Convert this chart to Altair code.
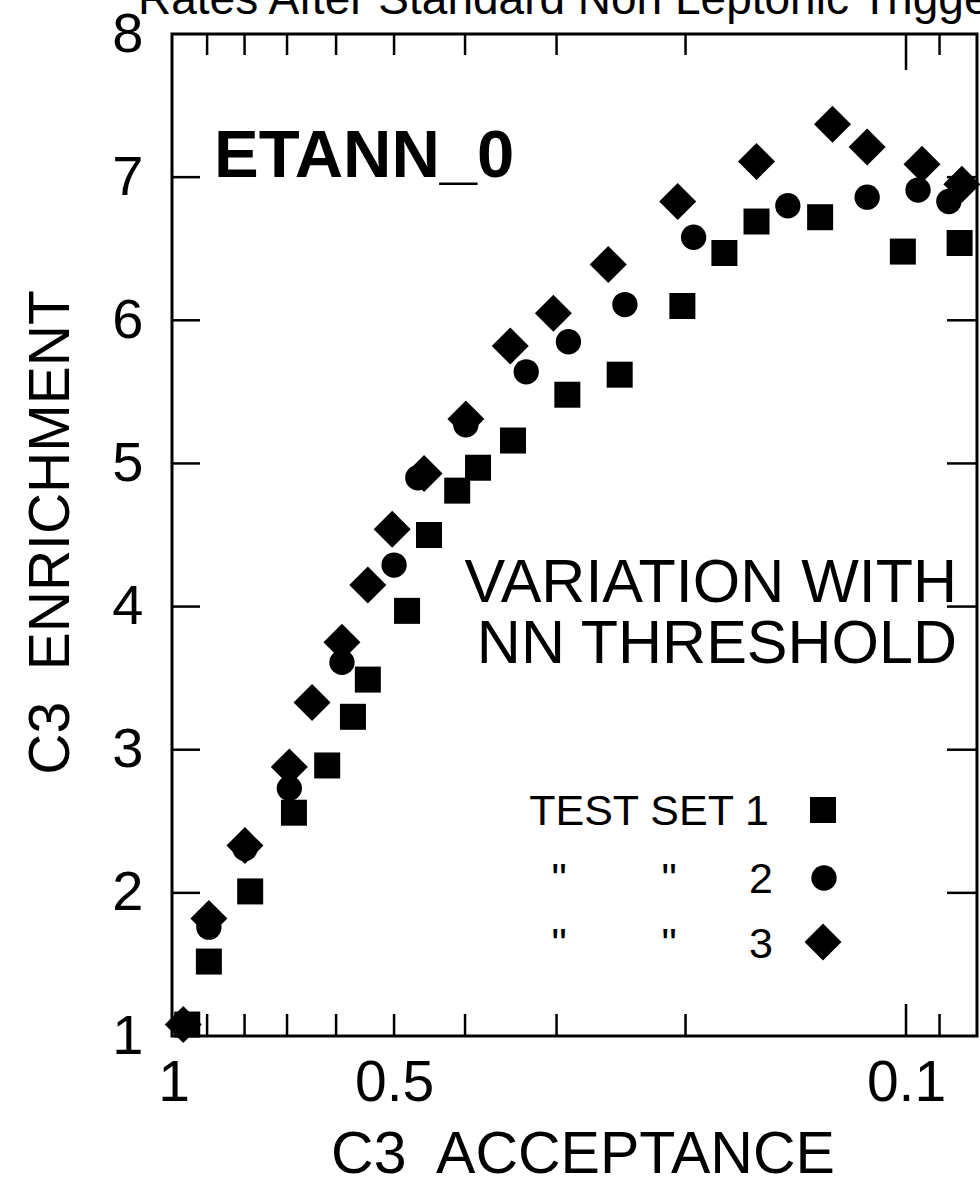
import altair as alt
import pandas as pd

# ---- data ----
sq_x = [0.958, 0.895, 0.786, 0.685, 0.617, 0.569, 0.543, 0.480, 0.448, 0.410,
        0.384, 0.344, 0.290, 0.246, 0.202, 0.177, 0.160, 0.131, 0.101, 0.0845]
sq_y = [1.08, 1.52, 2.01, 2.56, 2.89, 3.23, 3.49, 3.97, 4.50, 4.81,
        4.97, 5.16, 5.48, 5.62, 6.10, 6.47, 6.69, 6.72, 6.48, 6.54]
ci_x = [0.970, 0.895, 0.799, 0.695, 0.589, 0.500, 0.464, 0.399, 0.330, 0.289,
        0.242, 0.195, 0.145, 0.113, 0.0963, 0.0874]
ci_y = [1.08, 1.76, 2.31, 2.73, 3.61, 4.29, 4.90, 5.27, 5.64, 5.85,
        6.11, 6.58, 6.80, 6.86, 6.91, 6.83]
di_x = [0.970, 0.895, 0.799, 0.695, 0.647, 0.589, 0.543, 0.503, 0.455, 0.399,
        0.347, 0.303, 0.255, 0.205, 0.160, 0.126, 0.113, 0.0951, 0.0839]
di_y = [1.08, 1.82, 2.33, 2.88, 3.33, 3.75, 4.15, 4.54, 4.93, 5.31,
        5.82, 6.05, 6.39, 6.83, 7.11, 7.37, 7.21, 7.09, 6.95]

x_label_vals = [1, 0.5, 0.1]
x_minor_ticks = [0.9, 0.8, 0.7, 0.6, 0.5, 0.4, 0.3, 0.2, 0.09]
x_major_ticks = [0.1]
y_label_vals = [1, 2, 3, 4, 5, 6, 7, 8]
y_ticks = [2, 3, 4, 5, 6, 7]

TITLE = "Rates After Standard Non Leptonic Trigger"
X_TITLE = "C3\u00a0 ACCEPTANCE"
Y_TITLE = "C3\u00a0 ENRICHMENT"

FONT = "Liberation Sans, Arial, Helvetica, sans-serif"
W, H = 805, 1002

xscale = alt.Scale(type="log", domain=[0.08, 1.005], reverse=True, nice=False, zero=False)
yscale = alt.Scale(domain=[1, 8], nice=False, zero=False)


def df(xs, ys):
    return pd.DataFrame({"acc": xs, "enr": ys})


x_axis = alt.Axis(values=x_label_vals, format="~g", ticks=False, tickSize=0, domain=False,
                  grid=False, labelFontSize=57, labelFont=FONT, labelColor="black",
                  labelPadding=19, labelFlush=False, labelOverlap=False,
                  title=X_TITLE, titleFont=FONT, titleFontSize=59, titleFontWeight="normal",
                  titleColor="black", titleBaseline="alphabetic", titleY=136,
                  titleX=W / 2 + 8, titleAlign="center")
y_axis = alt.Axis(values=y_label_vals, ticks=False, tickSize=0, domain=False, grid=False,
                  labelFontSize=56, labelFont=FONT, labelColor="black", labelPadding=29,
                  labelFlush=False, labelOverlap=False,
                  title=Y_TITLE, titleFont=FONT, titleFontSize=57, titleFontWeight="normal",
                  titleColor="black", titleAngle=-90, titleBaseline="alphabetic",
                  titleAlign="center", titleX=-104, titleY=498)


def X(field):
    return alt.X(field, scale=xscale, axis=x_axis, title=X_TITLE)


def Y(field):
    return alt.Y(field, scale=yscale, axis=y_axis, title=Y_TITLE)


def pts(data, shape, size):
    return alt.Chart(data).mark_point(shape=shape, filled=True, size=size, color="black",
                                      opacity=1, strokeWidth=0).encode(
        x=X("acc:Q"), y=Y("enr:Q"))


squares = pts(df(sq_x, sq_y), "square", 676)
circles = pts(df(ci_x, ci_y), "circle", 640)
diamonds = pts(df(di_x, di_y), "diamond", 1369)

RULE = dict(color="black", strokeWidth=2.5)


def xticks(vals, y0, y1):
    return alt.Chart(pd.DataFrame({"acc": vals})).mark_rule(**RULE).encode(
        x=X("acc:Q"), y=alt.value(y0), y2=alt.value(y1))


def yticks(vals, x0, x1):
    return alt.Chart(pd.DataFrame({"enr": vals})).mark_rule(**RULE).encode(
        y=Y("enr:Q"), x=alt.value(x0), x2=alt.value(x1))


ticks = [
    xticks(x_minor_ticks, H, H - 22), xticks(x_major_ticks, H, H - 32),
    xticks(x_minor_ticks, 0, 21), xticks(x_major_ticks, 0, 36),
    yticks(y_ticks, 0, 28), yticks(y_ticks, W, W - 30),
]


def label(txt, x, y, size, align="left", weight="normal"):
    return alt.Chart(pd.DataFrame({"t": [txt]})).mark_text(
        font=FONT, fontSize=size, fontWeight=weight, align=align, baseline="alphabetic",
        color="black").encode(text="t:N", x=alt.value(x), y=alt.value(y))


def key(shape, size, x, y):
    return alt.Chart(pd.DataFrame({"k": [shape]})).mark_point(
        shape=shape, filled=True, size=size, color="black", opacity=1, strokeWidth=0
    ).encode(x=alt.value(x), y=alt.value(y))


texts = [
    label(TITLE, -34, -20, 46),
    label("ETANN_0", 42, 143, 67, weight="bold"),
    label("VARIATION WITH", 785, 568, 61, align="right"),
    label("NN THRESHOLD", 785, 629, 61, align="right"),
    label("TEST SET 1", 597, 791, 43, align="right"),
    label('"', 387, 859, 43, align="center"),
    label('"', 497, 859, 43, align="center"),
    label("2", 589, 859, 43, align="center"),
    label('"', 387, 924, 43, align="center"),
    label('"', 497, 924, 43, align="center"),
    label("3", 589, 924, 43, align="center"),
    key("square", 676, 651, 776),
    key("circle", 640, 652, 844),
    key("diamond", 1369, 651, 908),
]

chart = alt.layer(squares, circles, diamonds, *ticks, *texts).properties(
    width=W, height=H,
    padding={"left": 172, "top": 34, "right": 3, "bottom": 146},
    autosize=alt.AutoSizeParams(type="none"),
    background="white",
).configure_view(stroke="black", strokeWidth=3)

chart.save("out.html", embed_options={"renderer": "svg", "actions": False})
